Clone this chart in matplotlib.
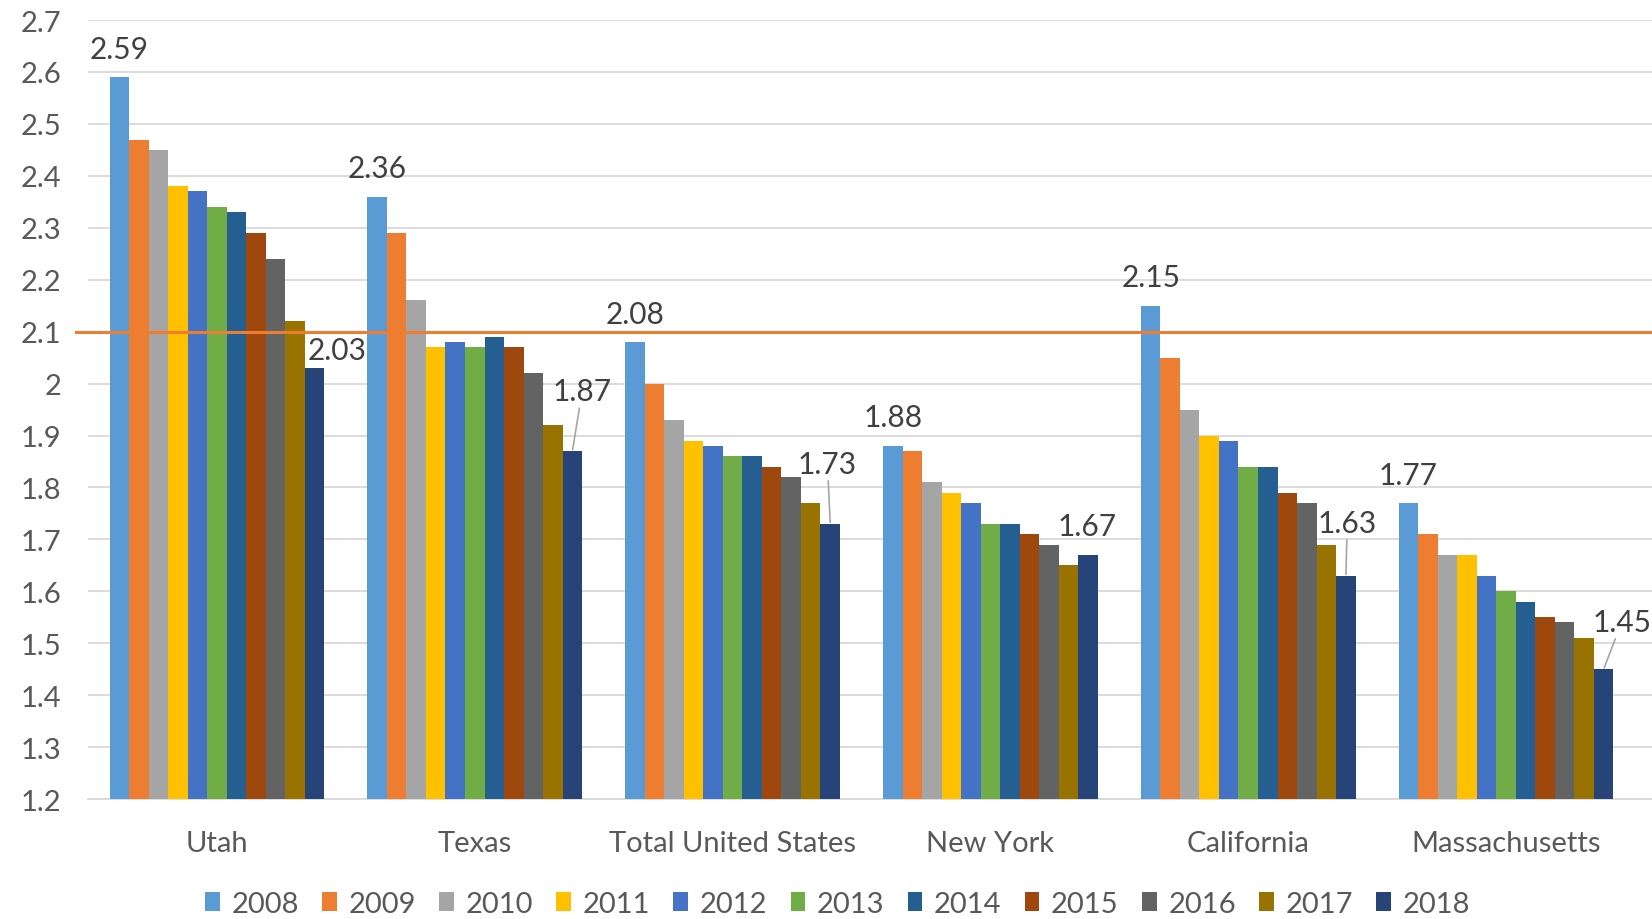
import matplotlib
matplotlib.use("Agg")
import matplotlib.pyplot as plt
import numpy as np

states = ["Utah", "Texas", "Total United States", "New York", "California", "Massachusetts"]
years = ["2008", "2009", "2010", "2011", "2012", "2013", "2014", "2015", "2016", "2017", "2018"]

utah = [2.59, 2.47, 2.45, 2.38, 2.37, 2.34, 2.33, 2.29, 2.24, 2.12, 2.03]
texas = [2.36, 2.29, 2.16, 2.07, 2.08, 2.07, 2.09, 2.07, 2.02, 1.92, 1.87]
total_us = [2.08, 2.00, 1.93, 1.89, 1.88, 1.86, 1.86, 1.84, 1.82, 1.77, 1.73]
new_york = [1.88, 1.87, 1.81, 1.79, 1.77, 1.73, 1.73, 1.71, 1.69, 1.65, 1.67]
california = [2.15, 2.05, 1.95, 1.90, 1.89, 1.84, 1.84, 1.79, 1.77, 1.69, 1.63]
massachusetts = [1.77, 1.71, 1.67, 1.67, 1.63, 1.60, 1.58, 1.55, 1.54, 1.51, 1.45]

replacement_level = 2.1
yticks = [1.2, 1.3, 1.4, 1.5, 1.6, 1.7, 1.8, 1.9, 2.0, 2.1, 2.2, 2.3, 2.4, 2.5, 2.6, 2.7]

colors = ["#5B9BD5", "#ED7D31", "#A5A5A5", "#FFC000", "#4472C4", "#70AD47",
          "#255E91", "#9E480E", "#636363", "#997300", "#264478"]

# offsets (points) for the last-year labels, and whether to draw a leader line
last_offsets = [(16, 13), (7, 43), (-2, 43), (-1, 21), (1, 38), (13, 34)]
last_leader = [False, True, True, False, True, True]

plt.rcParams['font.family'] = ['Lato', 'DejaVu Sans']

data = np.array([utah, texas, total_us, new_york, california, massachusetts])  # states x years

fig = plt.figure(figsize=(16.52, 9.2), dpi=100)
ax = fig.add_axes([0.0533, 0.1304, 0.9467, 0.8467])

n_years = len(years)
group_w = 0.833
bw = group_w / n_years
x = np.arange(len(states))

for j in range(n_years):
    pos = x - group_w / 2 + bw * (j + 0.5)
    ax.bar(pos, data[:, j] - 1.2, bottom=1.2, width=bw, color=colors[j],
           label=years[j], zorder=3, edgecolor='none')

label_fs = 21.5

# first year labels
for i in range(len(states)):
    pos = x[i] - group_w / 2 + bw * 0.5
    ax.annotate(f"{data[i, 0]:.2f}", xy=(pos, data[i, 0]), xytext=(0, 20.5),
                textcoords='offset points', ha='center', va='center',
                fontsize=label_fs, color='#404040', zorder=5)

# last year labels
for i in range(len(states)):
    pos = x[i] - group_w / 2 + bw * (n_years - 0.5)
    kw = {}
    if last_leader[i]:
        kw['arrowprops'] = dict(arrowstyle='-', color='#A6A6A6', lw=1.2,
                                shrinkA=0, shrinkB=1)
    ax.annotate(f"{data[i, -1]:.2f}", xy=(pos, data[i, -1]), xytext=last_offsets[i],
                textcoords='offset points', ha='center', va='center',
                fontsize=label_fs, color='#404040', zorder=5, annotation_clip=False, **kw)

ax.axhline(replacement_level, xmin=-0.008, xmax=1, color='#ED7D31', lw=2.2,
           zorder=4, clip_on=False)

ax.set_xlim(-0.5, 5.566)
ax.set_ylim(1.2, 2.7)
ax.set_yticks(yticks)
ax.set_yticklabels([f"{v:g}" for v in yticks])
ax.set_xticks(x)
ax.set_xticklabels(states)
ax.tick_params(axis='y', length=0, pad=19, labelsize=21, labelcolor='#595959')
ax.tick_params(axis='x', length=0, pad=22, labelsize=21, labelcolor='#595959')
ax.yaxis.grid(True, color='#D9D9D9', lw=1.3, zorder=0)
ax.set_axisbelow(True)
for s in ['top', 'right', 'left']:
    ax.spines[s].set_visible(False)
ax.spines['bottom'].set_color('#D9D9D9')
ax.spines['bottom'].set_linewidth(1.3)

leg = fig.legend(loc='center', bbox_to_anchor=(0.507, 0.0165), ncol=n_years,
                 frameon=False, fontsize=21, handlelength=0.5, handleheight=0.6,
                 handletextpad=0.4, columnspacing=0.8, labelcolor='#595959')

fig.savefig("out.png", dpi=100)
